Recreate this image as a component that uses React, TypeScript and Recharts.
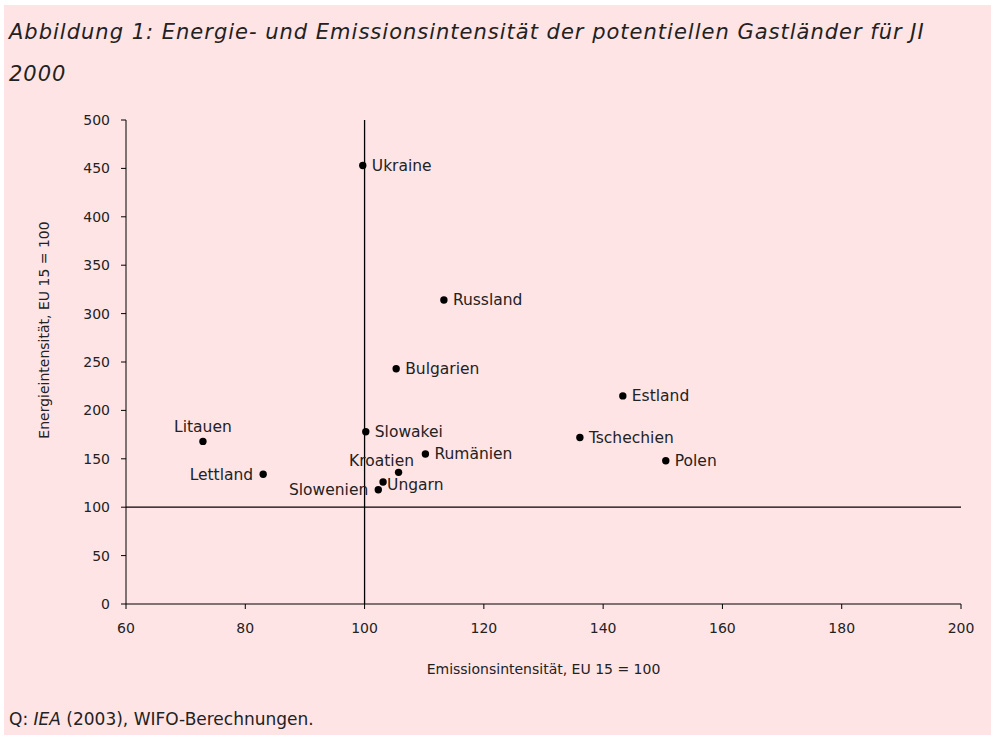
import React from 'react';
import {
  ScatterChart,
  Scatter,
  XAxis,
  YAxis,
  ReferenceLine,
} from 'recharts';

const countries = [
  'Ukraine', 'Russland', 'Bulgarien', 'Estland', 'Tschechien', 'Polen', 'Litauen',
  'Lettland', 'Slowakei', 'Rumänien', 'Kroatien', 'Ungarn', 'Slowenien',
];
const emission = [99.7, 113.3, 105.3, 143.3, 136.1, 150.5, 72.9, 83.0, 100.2, 110.2, 105.7, 103.1, 102.3];
const energy = [453, 314, 243, 215, 172, 148, 168, 134, 178, 155, 136, 126, 118];

const xTicks = [60, 80, 100, 120, 140, 160, 180, 200];
const yTicks = [0, 50, 100, 150, 200, 250, 300, 350, 400, 450, 500];

// where each label sits relative to its dot
const labelSide: Record<string, string> = {
  Litauen: 'top',
  Lettland: 'left',
  Slowenien: 'left',
  Kroatien: 'topleft',
};

const data = countries.map((name, i) => ({ name, x: emission[i], y: energy[i] }));

const FONT = '"DejaVu Sans", sans-serif';
const BG = '#FFE4E6';

const Dot = (props: any) => {
  const { cx, cy, payload } = props;
  const side = labelSide[payload.name] || 'right';
  let tx = cx + 9;
  let ty = cy;
  let anchor: 'start' | 'end' | 'middle' = 'start';
  if (side === 'left') {
    tx = cx - 10;
    anchor = 'end';
  } else if (side === 'top') {
    tx = cx;
    ty = cy - 15;
    anchor = 'middle';
  } else if (side === 'topleft') {
    tx = cx - 17;
    ty = cy - 12;
    anchor = 'middle';
  } else if (payload.name === 'Ungarn') {
    tx = cx + 4;
    ty = cy + 3;
  }
  return (
    <g>
      <circle cx={cx} cy={cy} r={3.7} fill="#000" />
      <text
        x={tx}
        y={ty}
        dy="0.35em"
        textAnchor={anchor}
        fontFamily={FONT}
        fontSize={15.5}
        fill="#222"
      >
        {payload.name}
      </text>
    </g>
  );
};

const App: React.FC = () => {
  return (
    <div
      style={{
        position: 'absolute',
        left: 4,
        top: 5,
        width: 987,
        height: 730,
        background: BG,
        fontFamily: FONT,
        color: '#222',
      }}
    >
      <div
        style={{
          position: 'absolute',
          left: 5,
          top: 6,
          fontSize: 21,
          letterSpacing: 1,
          fontStyle: 'italic',
          lineHeight: '42px',
        }}
      >
        Abbildung 1: Energie- und Emissionsintensität der potentiellen Gastländer für JI
        <br />
        2000
      </div>

      <div style={{ position: 'absolute', left: 0, top: 0 }}>
        <ScatterChart
          width={987}
          height={730}
          margin={{ top: 115, right: 30, bottom: 101, left: 62 }}
        >
          <XAxis
            type="number"
            dataKey="x"
            domain={[60, 200]}
            ticks={xTicks}
            interval={0}
            height={30}
            tickSize={5}
            tickMargin={14}
            stroke="#000"
            tick={{ fill: '#222', fontSize: 14, fontFamily: FONT }}
            label={{
              value: 'Emissionsintensität, EU 15 = 100',
              position: 'bottom',
              offset: 30,
              fill: '#222',
              fontSize: 14,
              fontFamily: FONT,
            }}
          />
          <YAxis
            type="number"
            dataKey="y"
            domain={[0, 500]}
            ticks={yTicks}
            interval={0}
            width={60}
            tickSize={5}
            tickMargin={11}
            stroke="#000"
            tick={{ fill: '#222', fontSize: 14, fontFamily: FONT }}
            label={{
              content: () => (
                <text
                  x={41}
                  y={325}
                  textAnchor="middle"
                  dominantBaseline="middle"
                  transform="rotate(-90 41 325)"
                  fill="#222"
                  fontSize={14}
                  fontFamily={FONT}
                >
                  Energieintensität, EU 15 = 100
                </text>
              ),
            }}
          />
          <ReferenceLine y={100} stroke="#000" strokeWidth={1.3} ifOverflow="extendDomain" />
          <ReferenceLine x={100} stroke="#000" strokeWidth={1.3} ifOverflow="extendDomain" />
          <Scatter data={data} shape={<Dot />} isAnimationActive={false} />
        </ScatterChart>
      </div>

      <div style={{ position: 'absolute', left: 5, top: 704, fontSize: 17 }}>
        Q: <i>IEA</i> (2003), WIFO-Berechnungen.
      </div>
    </div>
  );
};

export default App;
